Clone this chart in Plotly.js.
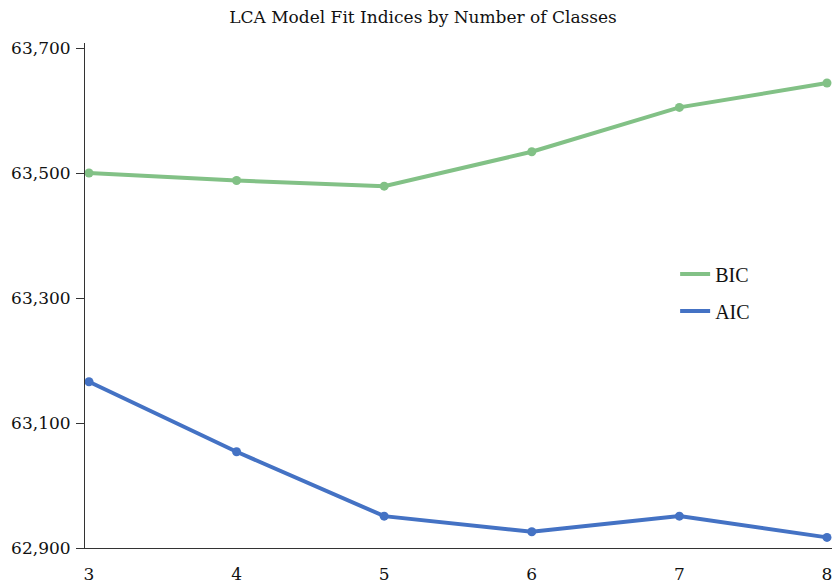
<!DOCTYPE html>
<html>
<head>
<meta charset="utf-8">
<script src="https://cdn.plot.ly/plotly-3.0.1.min.js"></script>
<style>html,body{margin:0;padding:0;background:#fff;}#chart{width:832px;height:584px;}</style>
</head>
<body>
<div id="chart"></div>
<script>
const classes = [3, 4, 5, 6, 7, 8];
const bic = [63500, 63488, 63479, 63534, 63605, 63644];
const aic = [63166, 63054, 62951, 62926, 62951, 62917];
const yTicks = [62900, 63100, 63300, 63500, 63700];
const yTickLabels = ["62,900", "63,100", "63,300", "63,500", "63,700"];

const green = "#82c186", blue = "#4472c4";
const traces = [
  {x: classes, y: bic, name: "BIC", type: "scatter", mode: "lines",
   line: {color: green, width: 4}, legendgroup: "a", cliponaxis: false},
  {x: classes, y: aic, name: "AIC", type: "scatter", mode: "lines",
   line: {color: blue, width: 4}, legendgroup: "b", cliponaxis: false},
  {x: classes, y: bic, name: "BIC", type: "scatter", mode: "markers",
   marker: {color: green, size: 9}, showlegend: false, cliponaxis: false},
  {x: classes, y: aic, name: "AIC", type: "scatter", mode: "markers",
   marker: {color: blue, size: 9}, showlegend: false, cliponaxis: false}
];

const layout = {
  width: 832, height: 584,
  margin: {l: 85, r: 0, t: 43, b: 36},
  paper_bgcolor: "#fff", plot_bgcolor: "#fff",
  title: {text: "LCA Model Fit Indices by Number of Classes", x: 0.4525, xref: "paper", xanchor: "center", y: 0.97, yanchor: "middle",
          font: {family: "DejaVu Serif", size: 17, color: "#111"}},
  xaxis: {range: [2.973, 8.034], tickvals: classes, ticktext: classes.map(String), showgrid: false, zeroline: false,
          showline: true, linecolor: "#333", linewidth: 1, ticks: "", ticklabelstandoff: 11, ticklabeloverflow: "allow",
          tickfont: {family: "DejaVu Serif", size: 17, color: "#111"}},
  yaxis: {range: [62900, 63708], tickvals: yTicks, ticktext: yTickLabels, showgrid: false, zeroline: false,
          showline: true, linecolor: "#333", linewidth: 1, ticks: "outside", ticklen: 8, tickcolor: "#333",
          ticklabelstandoff: 2,
          tickfont: {family: "DejaVu Serif", size: 17, color: "#111"}},
  showlegend: true,
  legend: {x: 0.79, xanchor: "left", y: 0.506, yanchor: "middle", tracegroupgap: 8,
           font: {family: "Liberation Serif", size: 20, color: "#111"}, bgcolor: "rgba(0,0,0,0)"}
};

Plotly.newPlot("chart", traces, layout, {displayModeBar: false, staticPlot: true});
</script>
</body>
</html>
